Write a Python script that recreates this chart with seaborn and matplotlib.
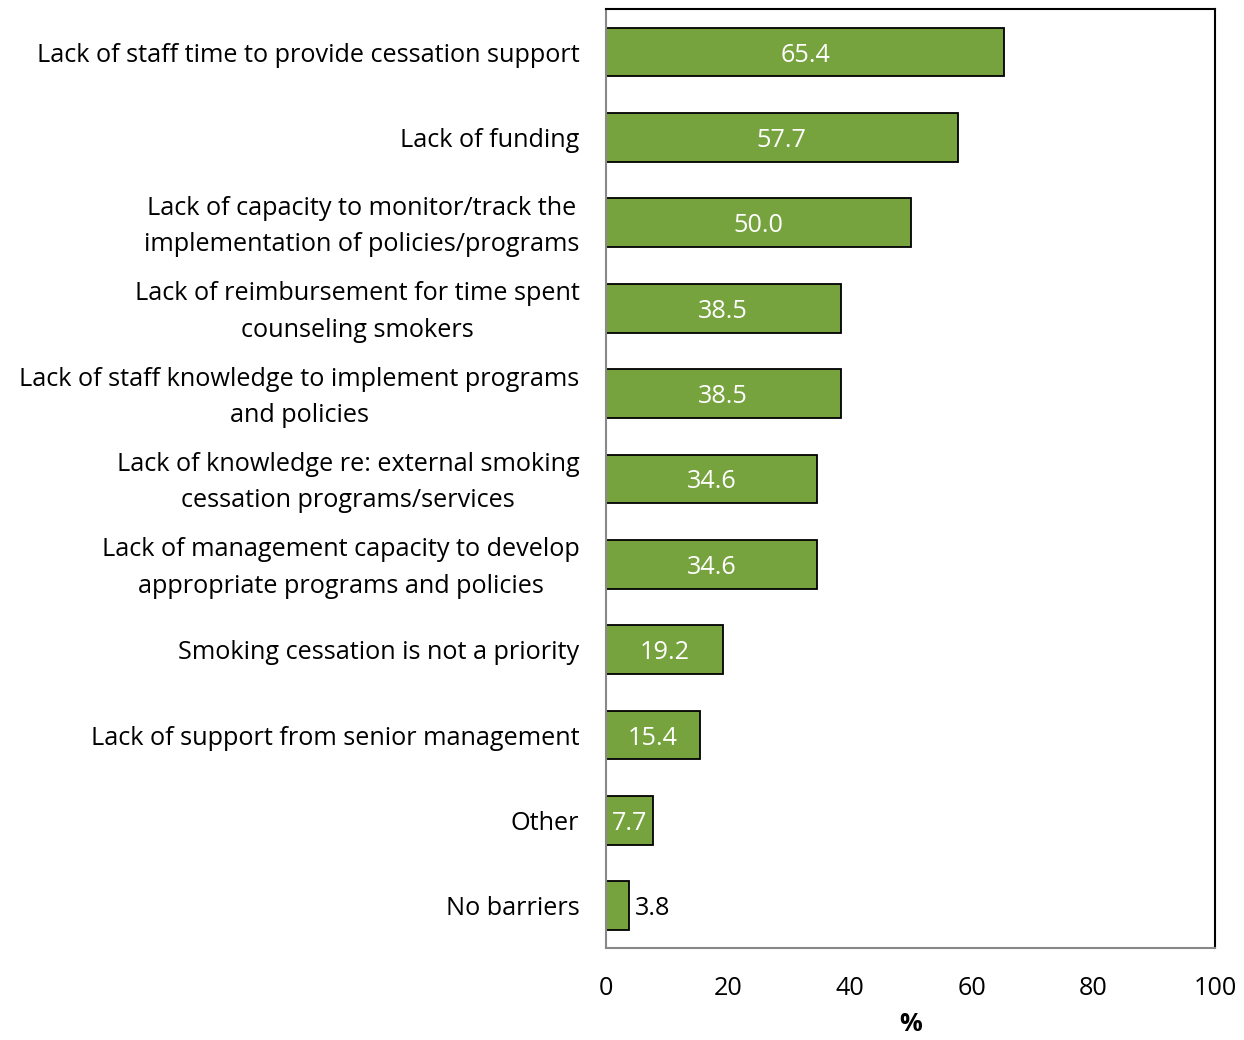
import matplotlib
matplotlib.use("Agg")
import matplotlib.pyplot as plt
import matplotlib.transforms as mtransforms
import seaborn as sns
import pandas as pd

categories = [
    "Lack of staff time to provide cessation support",
    "Lack of funding",
    "Lack of capacity to monitor/track the\nimplementation of policies/programs",
    "Lack of reimbursement for time spent\ncounseling smokers",
    "Lack of staff knowledge to implement programs\nand policies",
    "Lack of knowledge re: external smoking\ncessation programs/services",
    "Lack of management capacity to develop\nappropriate programs and policies",
    "Smoking cessation is not a priority",
    "Lack of support from senior management",
    "Other",
    "No barriers",
]
percentages = [65.4, 57.7, 50.0, 38.5, 38.5, 34.6, 34.6, 19.2, 15.4, 7.7, 3.8]
x_ticks = [0, 20, 40, 60, 80, 100]

df = pd.DataFrame({"barrier": categories, "pct": percentages})

sns.set_theme(style="white")
plt.rcParams["font.family"] = ["Open Sans", "DejaVu Sans"]
plt.rcParams["text.color"] = "black"

FS = 18.2

fig, ax = plt.subplots(figsize=(12.44, 10.4), dpi=100)
fig.subplots_adjust(left=0.487, right=0.977, top=0.991, bottom=0.088)

sns.barplot(data=df, x="pct", y="barrier", color="#77A33F", saturation=1,
            width=0.57, edgecolor="black", linewidth=1.3, ax=ax, orient="h")

ax.set_xlim(0, 100)
ax.set_xticks(x_ticks)
ax.set_xticklabels([str(t) for t in x_ticks], fontsize=FS, color="black")
ax.tick_params(axis="x", length=0, pad=20)
ax.tick_params(axis="y", length=0, pad=19)

# nudge two-line category labels up so they sit centred on their bars
lift = mtransforms.ScaledTranslation(0, 5 / 100, fig.dpi_scale_trans)
for lbl in ax.get_yticklabels():
    lbl.set_fontsize(FS)
    lbl.set_color("black")
    lbl.set_horizontalalignment("right")
    lbl.set_multialignment("center")
    lbl.set_linespacing(1.6)
    if "\n" in lbl.get_text():
        lbl.set_transform(lbl.get_transform() + lift)
ax.set_ylabel("")
ax.set_xlabel("%", fontsize=FS, fontweight="bold", labelpad=8, color="black")

for side in ["top", "right"]:
    ax.spines[side].set_color("black")
    ax.spines[side].set_linewidth(1.5)
for side in ["left", "bottom"]:
    ax.spines[side].set_color("#888888")
    ax.spines[side].set_linewidth(1.5)

for patch, val in zip(ax.patches, percentages):
    y = patch.get_y() + patch.get_height() / 2
    if val < 5:
        ax.text(val + 1.0, y, f"{val:.1f}", va="center_baseline", ha="left",
                color="black", fontsize=FS)
    else:
        ax.text(val / 2, y, f"{val:.1f}", va="center_baseline", ha="center",
                color="white", fontsize=FS)

fig.savefig("out.png", dpi=100)
